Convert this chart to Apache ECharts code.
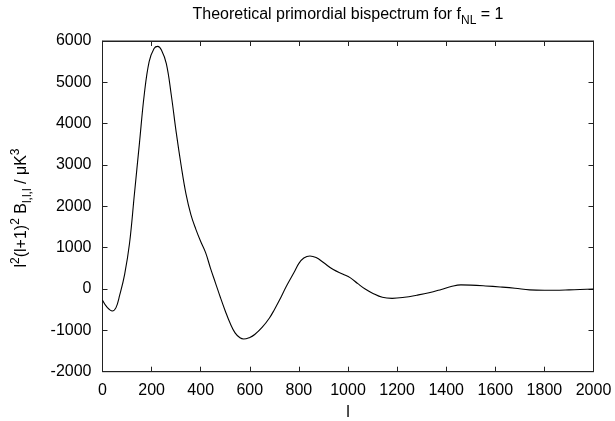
<!DOCTYPE html>
<html>
<head>
<meta charset="utf-8">
<script src="https://cdn.jsdelivr.net/npm/echarts@6/dist/echarts.min.js"></script>
<style>
  html, body { margin: 0; padding: 0; background: #fff; }
  #chart { width: 615px; height: 421px; }
</style>
</head>
<body>
<div id="chart"></div>
<script>
// multipole l and the bispectrum value
const ells = [0, 20, 40, 55, 70, 90, 110, 130, 150, 170, 190, 210, 225, 240, 260, 280, 300, 320, 340, 360,
  380, 400, 420, 440, 460, 480, 500, 520, 540, 560, 575, 600, 620, 650, 680, 700, 720, 750, 780, 800,
  820, 845, 870, 900, 940, 980, 1010, 1040, 1070, 1100, 1140, 1180, 1230, 1280, 1330, 1380, 1420, 1460,
  1500, 1560, 1620, 1680, 1740, 1800, 1900, 2000];
const bispec = [-270, -450, -530, -450, -150, 350, 1100, 2300, 3500, 4700, 5500, 5820, 5870, 5780, 5450, 4700, 3800, 3000, 2300, 1800,
  1450, 1150, 880, 500, 150, -200, -530, -830, -1060, -1180, -1210, -1170, -1100, -930, -700, -500, -280, 80, 400, 620,
  750, 800, 760, 640, 470, 360, 270, 130, 0, -100, -200, -225, -200, -150, -90, -10, 60, 100,
  95, 75, 50, 20, -20, -30, -20, 0];

const font = 'Liberation Sans, Arial, Helvetica, sans-serif';
const axisColor = '#222';

const chart = echarts.init(document.getElementById('chart'));

// fresh objects for every axis (gnuplot-style box with inward ticks)
function makeAxis(min, max, interval, position, withLabels) {
  return {
    type: 'value',
    min: min,
    max: max,
    interval: interval,
    position: position,
    splitLine: { show: false },
    axisLine: { show: true, onZero: false, lineStyle: { color: axisColor } },
    axisTick: { show: true, inside: true, length: 5 },
    axisLabel: withLabels
      ? { fontFamily: font, fontSize: 16, color: '#000', margin: 11, formatter: v => String(v) }
      : { show: false }
  };
}

const richStyles = {
  n: { fontFamily: font, fontSize: 16, fill: '#000', lineHeight: 24, verticalAlign: 'middle' },
  sup: { fontFamily: font, fontSize: 12, fill: '#000', lineHeight: 24, verticalAlign: 'top', padding: [0, 0, 8, 0] },
  sub: { fontFamily: font, fontSize: 12, fill: '#000', lineHeight: 24, verticalAlign: 'bottom', padding: [8, 0, 0, 0] }
};

chart.setOption({
  animation: false,
  grid: { left: 102.5, right: 21.5, top: 41, bottom: 49.3, show: true, borderColor: axisColor, borderWidth: 1 },
  xAxis: [makeAxis(0, 2000, 200, 'bottom', true), makeAxis(0, 2000, 200, 'top', false)],
  yAxis: [makeAxis(-2000, 6000, 1000, 'left', true), makeAxis(-2000, 6000, 1000, 'right', false)],
  // title and axis titles as text elements
  graphic: [{
    type: 'text',
    x: 348,
    y: 15,
    style: {
      text: '{n|Theoretical primordial bispectrum for f}{sub|NL}{n| = 1}',
      rich: richStyles,
      fill: '#000',
      align: 'center',
      verticalAlign: 'middle'
    }
  }, {
    type: 'text',
    x: 348,
    y: 413,
    style: {
      text: 'l',
      fontFamily: font,
      fontSize: 16,
      fill: '#000',
      align: 'center',
      verticalAlign: 'middle'
    }
  }, {
    type: 'text',
    x: 22,
    y: 208,
    rotation: Math.PI / 2,
    style: {
      text: '{n|l}{sup|2}{n|(l+1)}{sup|2}{n| B}{sub|l,l,l}{n| / μK}{sup|3}',
      rich: richStyles,
      fill: '#000',
      align: 'center',
      verticalAlign: 'middle'
    }
  }],
  series: [{
    type: 'line',
    xAxisIndex: 0,
    yAxisIndex: 0,
    data: ells.map((l, i) => [l, bispec[i]]),
    smooth: 0.4,
    showSymbol: false,
    lineStyle: { color: '#000', width: 1.1 }
  }]
});
</script>
</body>
</html>
